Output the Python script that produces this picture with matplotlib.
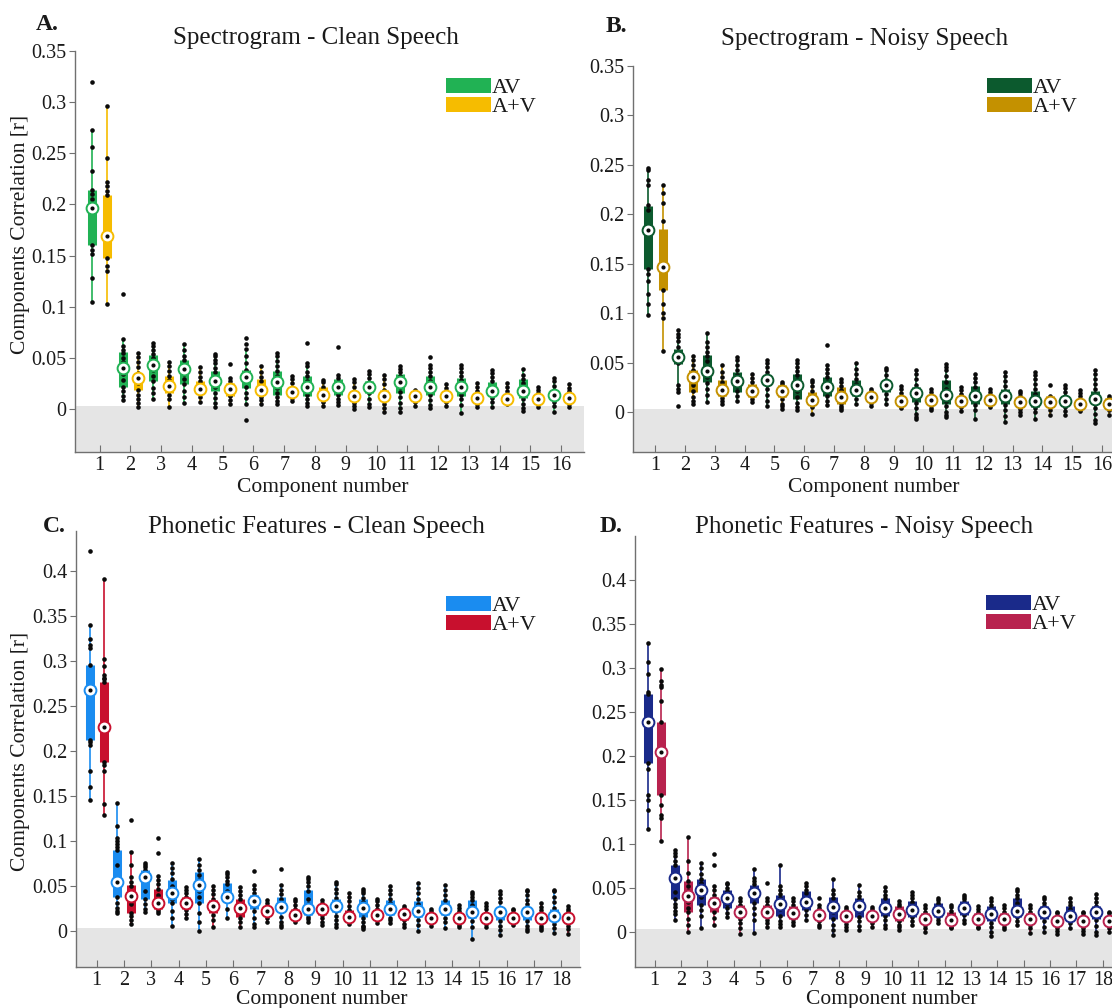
import numpy as np
import matplotlib
matplotlib.use('Agg')
import matplotlib.pyplot as plt
from matplotlib.patches import Rectangle
from matplotlib.ticker import FuncFormatter

plt.rcParams['font.family'] = ['Liberation Serif', 'DejaVu Serif']

W, H = 1112, 1008

# ---------------- A. Spectrogram - Clean Speech ----------------
sc_av_lo = [0.105, 0.009, 0.010, 0.006, 0.002, 0.005, 0.005, 0.003, 0.004, 0.002, -0.003, 0.001, -0.004, 0.002, -0.002, -0.003]
sc_av_q1 = [0.160, 0.022, 0.027, 0.024, 0.018, 0.021, 0.014, 0.013, 0.014, 0.016, 0.016, 0.014, 0.013, 0.013, 0.011, 0.010]
sc_av_med = [0.197, 0.040, 0.043, 0.039, 0.027, 0.031, 0.026, 0.022, 0.022, 0.022, 0.026, 0.022, 0.022, 0.018, 0.018, 0.014]
sc_av_q3 = [0.214, 0.056, 0.053, 0.048, 0.037, 0.038, 0.037, 0.032, 0.029, 0.027, 0.034, 0.032, 0.030, 0.026, 0.029, 0.019]
sc_av_hi = [0.273, 0.068, 0.065, 0.064, 0.054, 0.060, 0.055, 0.045, 0.033, 0.037, 0.042, 0.043, 0.043, 0.038, 0.039, 0.030]
sc_av_dots = [
    [0.32, 0.273, 0.256, 0.233, 0.214, 0.21, 0.205, 0.197, 0.16, 0.155, 0.152, 0.128, 0.105],
    [0.112, 0.068, 0.062, 0.058, 0.055, 0.05, 0.046, 0.04, 0.034, 0.028, 0.022, 0.018, 0.013, 0.009],
    [0.065, 0.062, 0.058, 0.054, 0.05, 0.046, 0.043, 0.038, 0.032, 0.027, 0.021, 0.016, 0.010],
    [0.064, 0.058, 0.052, 0.048, 0.044, 0.039, 0.034, 0.029, 0.024, 0.018, 0.012, 0.006],
    [0.054, 0.052, 0.048, 0.045, 0.04, 0.036, 0.031, 0.027, 0.022, 0.016, 0.011, 0.006, 0.002],
    [0.069, 0.064, 0.059, 0.052, 0.045, 0.038, 0.034, 0.031, 0.027, 0.022, 0.016, 0.011, 0.005, -0.011],
    [0.055, 0.052, 0.047, 0.042, 0.037, 0.032, 0.026, 0.021, 0.016, 0.012, 0.008, 0.005],
    [0.065, 0.045, 0.042, 0.036, 0.032, 0.027, 0.022, 0.018, 0.014, 0.01, 0.006, 0.003],
    [0.061, 0.033, 0.03, 0.026, 0.022, 0.018, 0.014, 0.01, 0.007, 0.004],
    [0.037, 0.034, 0.03, 0.026, 0.022, 0.019, 0.016, 0.01, 0.005, 0.002],
    [0.042, 0.039, 0.036, 0.032, 0.028, 0.026, 0.022, 0.017, 0.012, 0.006, 0.001, -0.003],
    [0.051, 0.043, 0.04, 0.036, 0.032, 0.027, 0.022, 0.018, 0.014, 0.009, 0.004, 0.001],
    [0.043, 0.04, 0.036, 0.032, 0.028, 0.022, 0.018, 0.014, 0.01, 0.004, -0.004],
    [0.038, 0.035, 0.031, 0.027, 0.022, 0.018, 0.014, 0.011, 0.007, 0.002],
    [0.039, 0.033, 0.029, 0.025, 0.021, 0.018, 0.014, 0.01, 0.005, 0.001, -0.002],
    [0.030, 0.027, 0.023, 0.019, 0.016, 0.014, 0.011, 0.007, 0.003, -0.003],
]
sc_apv_lo = [0.102, 0.002, 0.002, 0.007, 0.005, 0.005, 0.008, 0.003, 0.000, -0.003, 0.003, 0.003, 0.002, 0.005, 0.002, 0.002]
sc_apv_q1 = [0.148, 0.019, 0.016, 0.015, 0.013, 0.014, 0.013, 0.011, 0.008, 0.010, 0.010, 0.010, 0.008, 0.008, 0.008, 0.008]
sc_apv_med = [0.169, 0.030, 0.023, 0.020, 0.020, 0.019, 0.017, 0.014, 0.013, 0.013, 0.013, 0.013, 0.011, 0.010, 0.010, 0.011]
sc_apv_q3 = [0.209, 0.035, 0.032, 0.027, 0.025, 0.029, 0.022, 0.022, 0.018, 0.019, 0.017, 0.018, 0.016, 0.014, 0.014, 0.016]
sc_apv_hi = [0.296, 0.055, 0.046, 0.041, 0.030, 0.042, 0.032, 0.028, 0.029, 0.033, 0.019, 0.024, 0.025, 0.025, 0.022, 0.024]
sc_apv_dots = [
    [0.296, 0.245, 0.222, 0.218, 0.213, 0.209, 0.169, 0.148, 0.14, 0.135, 0.103],
    [0.055, 0.051, 0.046, 0.041, 0.035, 0.03, 0.025, 0.019, 0.014, 0.01, 0.006, 0.002],
    [0.046, 0.042, 0.037, 0.032, 0.028, 0.023, 0.018, 0.014, 0.01, 0.002],
    [0.041, 0.036, 0.031, 0.027, 0.022, 0.02, 0.016, 0.012, 0.007],
    [0.044, 0.030, 0.027, 0.024, 0.02, 0.016, 0.013, 0.009, 0.005],
    [0.042, 0.036, 0.031, 0.027, 0.023, 0.019, 0.015, 0.012, 0.009, 0.005],
    [0.032, 0.029, 0.025, 0.021, 0.017, 0.014, 0.011, 0.008],
    [0.028, 0.026, 0.022, 0.018, 0.014, 0.011, 0.007, 0.003],
    [0.029, 0.026, 0.022, 0.018, 0.013, 0.009, 0.006, 0.003, 0.000],
    [0.033, 0.029, 0.024, 0.019, 0.013, 0.01, 0.005, 0.001, -0.003],
    [0.019, 0.017, 0.015, 0.013, 0.01, 0.007, 0.003],
    [0.024, 0.021, 0.018, 0.013, 0.01, 0.007, 0.003],
    [0.025, 0.022, 0.018, 0.014, 0.011, 0.008, 0.005, 0.002],
    [0.025, 0.022, 0.018, 0.014, 0.01, 0.008, 0.005],
    [0.022, 0.019, 0.016, 0.013, 0.01, 0.008, 0.005, 0.002],
    [0.024, 0.021, 0.018, 0.015, 0.011, 0.008, 0.005, 0.002],
]

# ---------------- B. Spectrogram - Noisy Speech ----------------
sn_av_lo = [0.098, 0.021, 0.011, 0.012, 0.006, 0.002, 0.007, 0.009, 0.009, -0.007, -0.005, -0.007, -0.010, -0.007, -0.003, -0.011]
sn_av_q1 = [0.145, 0.049, 0.031, 0.021, 0.028, 0.014, 0.017, 0.017, 0.021, 0.011, 0.009, 0.009, 0.009, 0.005, 0.006, 0.009]
sn_av_med = [0.184, 0.056, 0.042, 0.032, 0.033, 0.028, 0.026, 0.023, 0.028, 0.020, 0.018, 0.017, 0.017, 0.012, 0.012, 0.014]
sn_av_q3 = [0.209, 0.064, 0.058, 0.041, 0.038, 0.039, 0.036, 0.033, 0.033, 0.026, 0.033, 0.027, 0.024, 0.022, 0.017, 0.022]
sn_av_hi = [0.247, 0.076, 0.080, 0.056, 0.053, 0.053, 0.048, 0.050, 0.045, 0.043, 0.049, 0.039, 0.041, 0.041, 0.028, 0.043]
sn_av_dots = [
    [0.247, 0.245, 0.235, 0.23, 0.21, 0.205, 0.184, 0.145, 0.14, 0.133, 0.12, 0.11, 0.098],
    [0.083, 0.079, 0.076, 0.072, 0.066, 0.06, 0.056, 0.05, 0.028, 0.024, 0.021, 0.006],
    [0.080, 0.071, 0.066, 0.061, 0.057, 0.052, 0.046, 0.042, 0.036, 0.03, 0.024, 0.018, 0.011],
    [0.056, 0.053, 0.048, 0.043, 0.038, 0.032, 0.027, 0.022, 0.017, 0.012],
    [0.053, 0.05, 0.046, 0.041, 0.037, 0.033, 0.028, 0.024, 0.018, 0.012, 0.006],
    [0.053, 0.05, 0.046, 0.042, 0.038, 0.033, 0.028, 0.022, 0.016, 0.01, 0.005, 0.002],
    [0.068, 0.048, 0.044, 0.04, 0.036, 0.031, 0.026, 0.021, 0.017, 0.012, 0.007],
    [0.050, 0.044, 0.039, 0.034, 0.029, 0.023, 0.019, 0.014, 0.009],
    [0.045, 0.043, 0.038, 0.033, 0.028, 0.024, 0.019, 0.014, 0.009],
    [0.043, 0.039, 0.034, 0.028, 0.023, 0.02, 0.015, 0.01, 0.004, -0.002, -0.005, -0.007],
    [0.049, 0.046, 0.043, 0.037, 0.031, 0.024, 0.018, 0.012, 0.006, 0.0, -0.003, -0.005],
    [0.039, 0.035, 0.031, 0.026, 0.021, 0.017, 0.012, 0.007, 0.002, -0.007],
    [0.041, 0.037, 0.032, 0.027, 0.022, 0.017, 0.012, 0.007, 0.002, -0.004, -0.010],
    [0.041, 0.038, 0.034, 0.029, 0.024, 0.019, 0.015, 0.012, 0.008, 0.004, 0.0, -0.007],
    [0.028, 0.025, 0.021, 0.017, 0.012, 0.009, 0.005, 0.001, -0.003],
    [0.043, 0.039, 0.034, 0.029, 0.024, 0.019, 0.014, 0.009, 0.004, -0.002, -0.008, -0.011],
]
sn_apv_lo = [0.062, 0.008, 0.009, 0.011, 0.003, -0.002, 0.002, 0.006, 0.004, 0.002, 0.001, 0.005, -0.003, -0.003, 0.001, -0.003]
sn_apv_q1 = [0.124, 0.021, 0.017, 0.016, 0.016, 0.009, 0.009, 0.012, 0.008, 0.009, 0.007, 0.009, 0.005, 0.005, 0.005, 0.004]
sn_apv_med = [0.147, 0.036, 0.023, 0.022, 0.022, 0.013, 0.016, 0.016, 0.012, 0.013, 0.012, 0.013, 0.011, 0.011, 0.008, 0.009]
sn_apv_q3 = [0.185, 0.043, 0.033, 0.029, 0.028, 0.021, 0.026, 0.021, 0.017, 0.017, 0.017, 0.018, 0.015, 0.017, 0.012, 0.015]
sn_apv_hi = [0.230, 0.057, 0.048, 0.039, 0.031, 0.033, 0.034, 0.024, 0.027, 0.024, 0.026, 0.024, 0.022, 0.017, 0.023, 0.017]
sn_apv_dots = [
    [0.23, 0.222, 0.212, 0.193, 0.147, 0.124, 0.11, 0.1, 0.095, 0.062],
    [0.057, 0.053, 0.048, 0.043, 0.038, 0.033, 0.028, 0.022, 0.016, 0.012, 0.008],
    [0.048, 0.041, 0.036, 0.031, 0.027, 0.023, 0.019, 0.015, 0.012, 0.009],
    [0.039, 0.035, 0.031, 0.027, 0.022, 0.018, 0.014, 0.011],
    [0.031, 0.029, 0.026, 0.022, 0.018, 0.014, 0.009, 0.006, 0.003],
    [0.033, 0.031, 0.027, 0.022, 0.017, 0.013, 0.009, 0.005, -0.002],
    [0.034, 0.031, 0.027, 0.023, 0.018, 0.014, 0.01, 0.006, 0.004, 0.002],
    [0.024, 0.022, 0.019, 0.016, 0.013, 0.01, 0.006],
    [0.027, 0.024, 0.02, 0.016, 0.012, 0.009, 0.006, 0.004],
    [0.024, 0.021, 0.017, 0.013, 0.01, 0.007, 0.004, 0.002],
    [0.026, 0.023, 0.019, 0.015, 0.012, 0.008, 0.005, 0.001],
    [0.024, 0.021, 0.018, 0.015, 0.012, 0.009, 0.005],
    [0.022, 0.02, 0.017, 0.013, 0.009, 0.006, 0.003, 0.0, -0.003],
    [0.028, 0.017, 0.015, 0.012, 0.009, 0.006, 0.002, -0.003],
    [0.023, 0.02, 0.017, 0.013, 0.009, 0.006, 0.003, 0.001],
    [0.017, 0.015, 0.012, 0.009, 0.006, 0.002, -0.003],
]

# ---------------- C. Phonetic Features - Clean Speech ----------------
pc_av_lo = [0.145, 0.020, 0.021, 0.006, 0.000, 0.015, 0.004, 0.004, 0.010, 0.005, 0.002, 0.009, 0.000, 0.003, -0.009, -0.004, 0.000, -0.002]
pc_av_q1 = [0.213, 0.038, 0.036, 0.031, 0.031, 0.033, 0.025, 0.021, 0.018, 0.021, 0.016, 0.018, 0.016, 0.018, 0.014, 0.012, 0.012, 0.012]
pc_av_med = [0.268, 0.055, 0.060, 0.042, 0.051, 0.038, 0.033, 0.027, 0.025, 0.028, 0.026, 0.024, 0.022, 0.024, 0.021, 0.021, 0.021, 0.017]
pc_av_q3 = [0.296, 0.090, 0.068, 0.057, 0.066, 0.053, 0.040, 0.038, 0.046, 0.036, 0.036, 0.034, 0.033, 0.034, 0.034, 0.027, 0.027, 0.025]
pc_av_hi = [0.340, 0.142, 0.076, 0.076, 0.080, 0.066, 0.051, 0.051, 0.060, 0.055, 0.047, 0.050, 0.053, 0.051, 0.043, 0.045, 0.046, 0.046]
pc_av_dots = [
    [0.423, 0.34, 0.325, 0.318, 0.315, 0.296, 0.268, 0.213, 0.21, 0.207, 0.178, 0.16, 0.146],
    [0.142, 0.117, 0.103, 0.1, 0.097, 0.094, 0.09, 0.074, 0.055, 0.038, 0.031, 0.026, 0.022, 0.020],
    [0.076, 0.074, 0.071, 0.068, 0.06, 0.045, 0.036, 0.03, 0.025, 0.021],
    [0.076, 0.07, 0.065, 0.058, 0.05, 0.042, 0.036, 0.031, 0.022, 0.015, 0.006],
    [0.080, 0.074, 0.068, 0.062, 0.057, 0.051, 0.044, 0.038, 0.031, 0.02, 0.01, 0.000],
    [0.066, 0.063, 0.06, 0.056, 0.052, 0.045, 0.038, 0.033, 0.025, 0.015],
    [0.067, 0.051, 0.047, 0.042, 0.038, 0.033, 0.028, 0.022, 0.015, 0.008, 0.004],
    [0.069, 0.051, 0.046, 0.041, 0.036, 0.031, 0.027, 0.022, 0.016, 0.01, 0.007, 0.004],
    [0.060, 0.058, 0.054, 0.05, 0.045, 0.036, 0.03, 0.025, 0.02, 0.016, 0.013, 0.010],
    [0.055, 0.052, 0.047, 0.042, 0.037, 0.032, 0.028, 0.022, 0.017, 0.012, 0.008, 0.005],
    [0.047, 0.045, 0.042, 0.037, 0.032, 0.026, 0.02, 0.015, 0.01, 0.006, 0.004, 0.002],
    [0.050, 0.046, 0.041, 0.036, 0.031, 0.024, 0.02, 0.015, 0.012, 0.009],
    [0.053, 0.048, 0.042, 0.036, 0.03, 0.022, 0.017, 0.012, 0.007, 0.000],
    [0.051, 0.046, 0.04, 0.035, 0.03, 0.024, 0.02, 0.015, 0.01, 0.003],
    [0.043, 0.041, 0.038, 0.034, 0.029, 0.021, 0.016, 0.011, 0.005, -0.009],
    [0.045, 0.041, 0.037, 0.032, 0.026, 0.021, 0.016, 0.011, 0.006, 0.001, -0.004],
    [0.046, 0.045, 0.04, 0.035, 0.03, 0.025, 0.021, 0.016, 0.011, 0.006, 0.002, 0.000],
    [0.046, 0.044, 0.038, 0.032, 0.026, 0.021, 0.017, 0.013, 0.008, 0.003, -0.002],
]
pc_apv_lo = [0.128, 0.008, 0.020, 0.014, 0.005, 0.004, 0.010, 0.010, 0.007, 0.008, 0.009, 0.004, 0.006, 0.005, 0.005, 0.007, 0.001, -0.003]
pc_apv_q1 = [0.188, 0.020, 0.025, 0.025, 0.020, 0.016, 0.018, 0.014, 0.018, 0.011, 0.012, 0.012, 0.010, 0.010, 0.010, 0.011, 0.009, 0.010]
pc_apv_med = [0.227, 0.039, 0.031, 0.031, 0.028, 0.026, 0.022, 0.018, 0.025, 0.016, 0.018, 0.019, 0.014, 0.015, 0.015, 0.015, 0.014, 0.015]
pc_apv_q3 = [0.277, 0.051, 0.047, 0.038, 0.034, 0.036, 0.028, 0.025, 0.029, 0.023, 0.023, 0.023, 0.020, 0.020, 0.020, 0.020, 0.020, 0.020]
pc_apv_hi = [0.392, 0.088, 0.061, 0.049, 0.050, 0.049, 0.034, 0.036, 0.034, 0.042, 0.036, 0.028, 0.024, 0.029, 0.031, 0.025, 0.031, 0.028]
pc_apv_dots = [
    [0.392, 0.303, 0.295, 0.285, 0.282, 0.28, 0.277, 0.227, 0.188, 0.185, 0.178, 0.141, 0.129],
    [0.124, 0.088, 0.073, 0.06, 0.055, 0.05, 0.039, 0.03, 0.02, 0.017, 0.012, 0.008],
    [0.103, 0.087, 0.061, 0.057, 0.052, 0.047, 0.04, 0.031, 0.025, 0.022, 0.020],
    [0.049, 0.046, 0.042, 0.038, 0.034, 0.031, 0.027, 0.023, 0.019, 0.014],
    [0.050, 0.046, 0.041, 0.036, 0.032, 0.028, 0.023, 0.018, 0.012, 0.005],
    [0.049, 0.045, 0.04, 0.036, 0.031, 0.026, 0.02, 0.015, 0.01, 0.004],
    [0.034, 0.031, 0.028, 0.025, 0.022, 0.018, 0.014, 0.01],
    [0.036, 0.033, 0.029, 0.025, 0.021, 0.018, 0.014, 0.01],
    [0.034, 0.031, 0.029, 0.025, 0.021, 0.018, 0.014, 0.01, 0.007],
    [0.042, 0.038, 0.033, 0.028, 0.023, 0.019, 0.016, 0.012, 0.008],
    [0.036, 0.033, 0.029, 0.024, 0.02, 0.016, 0.012, 0.009],
    [0.028, 0.026, 0.023, 0.019, 0.016, 0.012, 0.008, 0.004],
    [0.024, 0.022, 0.019, 0.015, 0.012, 0.009, 0.006],
    [0.029, 0.026, 0.022, 0.018, 0.014, 0.01, 0.007, 0.005],
    [0.031, 0.028, 0.024, 0.02, 0.015, 0.011, 0.008, 0.005],
    [0.025, 0.023, 0.02, 0.016, 0.013, 0.01, 0.007],
    [0.031, 0.027, 0.023, 0.019, 0.014, 0.01, 0.006, 0.003, 0.001],
    [0.028, 0.025, 0.022, 0.018, 0.014, 0.01, 0.006, 0.002, -0.003],
]

# ---------------- D. Phonetic Features - Noisy Speech ----------------
pn_av_lo = [0.117, 0.013, 0.004, 0.017, -0.001, 0.006, 0.014, -0.004, 0.002, 0.004, 0.008, 0.010, 0.010, -0.005, 0.008, 0.000, 0.004, -0.004]
pn_av_q1 = [0.192, 0.037, 0.031, 0.027, 0.033, 0.018, 0.025, 0.015, 0.017, 0.018, 0.017, 0.017, 0.019, 0.012, 0.017, 0.015, 0.012, 0.015]
pn_av_med = [0.239, 0.061, 0.047, 0.038, 0.044, 0.032, 0.034, 0.028, 0.029, 0.027, 0.025, 0.024, 0.027, 0.020, 0.024, 0.022, 0.018, 0.023]
pn_av_q3 = [0.270, 0.076, 0.060, 0.048, 0.053, 0.042, 0.046, 0.040, 0.038, 0.038, 0.035, 0.033, 0.035, 0.029, 0.038, 0.029, 0.029, 0.029]
pn_av_hi = [0.328, 0.093, 0.078, 0.056, 0.071, 0.076, 0.055, 0.060, 0.053, 0.051, 0.045, 0.038, 0.042, 0.038, 0.049, 0.040, 0.038, 0.043]
pn_av_dots = [
    [0.328, 0.307, 0.293, 0.273, 0.27, 0.239, 0.192, 0.185, 0.155, 0.15, 0.139, 0.117],
    [0.093, 0.09, 0.086, 0.08, 0.076, 0.061, 0.045, 0.037, 0.032, 0.028, 0.024, 0.02, 0.013],
    [0.078, 0.073, 0.066, 0.06, 0.055, 0.047, 0.04, 0.031, 0.025, 0.018, 0.004],
    [0.056, 0.054, 0.05, 0.046, 0.042, 0.038, 0.032, 0.027, 0.021, 0.017],
    [0.071, 0.061, 0.058, 0.054, 0.05, 0.044, 0.038, 0.033, 0.027, 0.02, 0.014, -0.001],
    [0.076, 0.052, 0.048, 0.043, 0.038, 0.032, 0.026, 0.018, 0.012, 0.009, 0.006],
    [0.055, 0.052, 0.048, 0.044, 0.039, 0.034, 0.029, 0.025, 0.019, 0.014],
    [0.060, 0.047, 0.043, 0.038, 0.034, 0.028, 0.022, 0.015, 0.008, 0.002, -0.004],
    [0.053, 0.045, 0.041, 0.037, 0.033, 0.029, 0.024, 0.017, 0.012, 0.007, 0.002],
    [0.051, 0.046, 0.042, 0.038, 0.032, 0.027, 0.022, 0.018, 0.013, 0.008, 0.004],
    [0.045, 0.042, 0.038, 0.034, 0.03, 0.025, 0.02, 0.017, 0.012, 0.008],
    [0.038, 0.036, 0.033, 0.029, 0.024, 0.02, 0.017, 0.013, 0.010],
    [0.042, 0.04, 0.037, 0.034, 0.03, 0.027, 0.022, 0.019, 0.014, 0.010],
    [0.038, 0.035, 0.031, 0.027, 0.023, 0.02, 0.015, 0.01, 0.005, 0.0, -0.005],
    [0.049, 0.046, 0.042, 0.038, 0.033, 0.028, 0.024, 0.02, 0.017, 0.012, 0.008],
    [0.040, 0.037, 0.033, 0.029, 0.025, 0.022, 0.018, 0.012, 0.006, 0.000],
    [0.038, 0.034, 0.03, 0.026, 0.022, 0.018, 0.014, 0.01, 0.004],
    [0.043, 0.039, 0.034, 0.029, 0.025, 0.023, 0.018, 0.013, 0.007, 0.0, -0.004],
]
pn_apv_lo = [0.103, 0.000, 0.008, -0.003, 0.006, 0.008, 0.005, 0.002, 0.006, 0.002, 0.000, 0.004, 0.004, 0.003, -0.001, -0.002, -0.002, 0.000]
pn_apv_q1 = [0.156, 0.022, 0.023, 0.017, 0.017, 0.015, 0.013, 0.013, 0.013, 0.012, 0.010, 0.010, 0.010, 0.010, 0.009, 0.008, 0.008, 0.008]
pn_apv_med = [0.205, 0.041, 0.033, 0.023, 0.022, 0.021, 0.019, 0.018, 0.018, 0.020, 0.015, 0.014, 0.015, 0.015, 0.015, 0.012, 0.012, 0.012]
pn_apv_q3 = [0.239, 0.058, 0.040, 0.031, 0.031, 0.029, 0.025, 0.023, 0.023, 0.029, 0.021, 0.023, 0.021, 0.021, 0.021, 0.017, 0.017, 0.017]
pn_apv_hi = [0.299, 0.108, 0.052, 0.038, 0.038, 0.038, 0.030, 0.028, 0.028, 0.035, 0.030, 0.031, 0.029, 0.030, 0.031, 0.023, 0.023, 0.023]
pn_apv_dots = [
    [0.299, 0.285, 0.281, 0.278, 0.262, 0.239, 0.205, 0.156, 0.144, 0.133, 0.129, 0.103],
    [0.108, 0.081, 0.067, 0.058, 0.052, 0.046, 0.041, 0.034, 0.027, 0.022, 0.015, 0.008, 0.000],
    [0.088, 0.076, 0.052, 0.047, 0.042, 0.038, 0.033, 0.028, 0.023, 0.016, 0.008],
    [0.038, 0.035, 0.031, 0.027, 0.023, 0.019, 0.015, 0.01, 0.004, -0.003],
    [0.055, 0.038, 0.035, 0.031, 0.027, 0.022, 0.018, 0.014, 0.01, 0.006],
    [0.038, 0.035, 0.031, 0.027, 0.023, 0.019, 0.015, 0.011, 0.008],
    [0.038, 0.030, 0.027, 0.023, 0.019, 0.015, 0.012, 0.008, 0.005],
    [0.028, 0.026, 0.023, 0.019, 0.016, 0.013, 0.009, 0.005, 0.002],
    [0.028, 0.026, 0.023, 0.019, 0.016, 0.013, 0.01, 0.006],
    [0.035, 0.032, 0.029, 0.025, 0.02, 0.016, 0.012, 0.008, 0.005, 0.002],
    [0.030, 0.027, 0.023, 0.019, 0.015, 0.012, 0.008, 0.004, 0.000],
    [0.031, 0.028, 0.024, 0.02, 0.015, 0.012, 0.009, 0.006, 0.004],
    [0.029, 0.026, 0.022, 0.018, 0.015, 0.012, 0.009, 0.006, 0.004],
    [0.030, 0.027, 0.023, 0.019, 0.015, 0.012, 0.009, 0.006, 0.003],
    [0.031, 0.027, 0.023, 0.019, 0.015, 0.011, 0.008, 0.004, -0.001],
    [0.023, 0.021, 0.018, 0.015, 0.012, 0.008, 0.004, 0.001, -0.002],
    [0.023, 0.021, 0.018, 0.015, 0.012, 0.008, 0.004, 0.001, -0.002],
    [0.023, 0.021, 0.017, 0.014, 0.012, 0.008, 0.004, 0.000],
]

legend_labels = ['AV', 'A+V']
xlabel = 'Component number'
ylabel = 'Components Correlation [r]'

fig = plt.figure(figsize=(W / 100, H / 100), dpi=100)
TXT = '#1a1a1a'


def px_axes(left, right, top, bottom):
    return fig.add_axes([left / W, 1 - bottom / H, (right - left) / W, (bottom - top) / H])


def fig_text(x, y, s, **kw):
    fig.text(x / W, 1 - y / H, s, color=TXT, **kw)


def draw_boxes(ax, pos, lo, q1, med, q3, hi, dots, color):
    ax.vlines(pos, lo, hi, color=color, lw=1.2, zorder=2)
    ax.vlines(pos, q1, q3, color=color, lw=6.5, zorder=3, capstyle='butt')
    for p, d in zip(pos, dots):
        ax.plot([p] * len(d), d, 'o', color='#0a0a0a', ms=3.3, mew=0, zorder=4)
    ax.plot(pos, med, 'o', ms=8.5, mfc='white', mec=color, mew=1.4, zorder=5)
    ax.plot(pos, med, 'o', ms=3.0, color='#0a0a0a', mew=0, zorder=6)


panels = [
    # letter, title, axes box px, xlim, ylim, top y tick, colours, data, text anchors
    ('A.', 'Spectrogram - Clean Speech', (75, 584, 51, 452), (0.2, 16.74), (-0.042, 0.35), 0.35,
     ('#21b254', '#f6bc00'),
     (sc_av_lo, sc_av_q1, sc_av_med, sc_av_q3, sc_av_hi, sc_av_dots),
     (sc_apv_lo, sc_apv_q1, sc_apv_med, sc_apv_q3, sc_apv_hi, sc_apv_dots),
     (36, 30), (316, 44), (446, 78), (323, 492), 234),
    ('B.', 'Spectrogram - Noisy Speech', (633, 1124, 66, 452), (0.25, 16.74), (-0.04, 0.35), 0.35,
     ('#0c5a2e', '#c49100'),
     (sn_av_lo, sn_av_q1, sn_av_med, sn_av_q3, sn_av_hi, sn_av_dots),
     (sn_apv_lo, sn_apv_q1, sn_apv_med, sn_apv_q3, sn_apv_hi, sn_apv_dots),
     (606, 32), (865, 45), (987, 78), (874, 492), None),
    ('C.', 'Phonetic Features - Clean Speech', (76, 580, 531, 967), (0.24, 18.69), (-0.04, 0.445), 0.4,
     ('#1a8cf0', '#c8102e'),
     (pc_av_lo, pc_av_q1, pc_av_med, pc_av_q3, pc_av_hi, pc_av_dots),
     (pc_apv_lo, pc_apv_q1, pc_apv_med, pc_apv_q3, pc_apv_hi, pc_apv_dots),
     (43, 532), (316, 533), (446, 596), (322, 1004), 751),
    ('D.', 'Phonetic Features - Noisy Speech', (635, 1121, 536, 967), (0.25, 18.69), (-0.04, 0.45), 0.4,
     ('#1a2a8a', '#b8224e'),
     (pn_av_lo, pn_av_q1, pn_av_med, pn_av_q3, pn_av_hi, pn_av_dots),
     (pn_apv_lo, pn_apv_q1, pn_apv_med, pn_apv_q3, pn_apv_hi, pn_apv_dots),
     (600, 532), (864, 533), (986, 595), (892, 1004), None),
]

for (letter, title, box, xlim, ylim, ytop, colors, av, apv,
     letter_xy, title_xy, leg_xy, xlab_xy, ylab_y) in panels:
    ax = px_axes(*box)
    n = len(av[2])
    comps = np.arange(1, n + 1)
    ax.axhspan(ylim[0] - 0.01, 0.003, color='#e5e5e5', lw=0, zorder=0)
    draw_boxes(ax, comps - 0.25, *av, colors[0])
    draw_boxes(ax, comps + 0.25, *apv, colors[1])

    ax.set_xlim(*xlim)
    ax.set_ylim(*ylim)
    ax.set_xticks(comps)
    ax.set_yticks(np.arange(0, ytop + 0.001, 0.05))
    ax.yaxis.set_major_formatter(FuncFormatter(lambda v, p: f'{round(v, 3):g}'))
    for s in ('top', 'right'):
        ax.spines[s].set_visible(False)
    for s in ('left', 'bottom'):
        ax.spines[s].set_color('#707070')
        ax.spines[s].set_linewidth(1.0)
    ax.tick_params(axis='x', direction='in', length=5, color='#707070', labelsize=14.5,
                   labelcolor=TXT, pad=3)
    ax.tick_params(axis='y', direction='out', length=4, color='#707070', labelsize=14.5,
                   labelcolor=TXT, pad=2)
    ax.set_facecolor('none')

    fig_text(letter_xy[0], letter_xy[1], letter, fontsize=17, fontweight='bold', ha='left', va='baseline')
    fig_text(title_xy[0], title_xy[1], title, fontsize=18, ha='center', va='baseline')
    fig_text(xlab_xy[0], xlab_xy[1], xlabel, fontsize=15.5, ha='center', va='baseline')
    if ylab_y is not None:
        fig_text(21, ylab_y, ylabel, fontsize=15.5, rotation=90, ha='center', va='center')

    # legend patches
    lx, ly = leg_xy
    for i, (lab, col) in enumerate(zip(legend_labels, colors)):
        top = ly + i * 19
        fig.add_artist(Rectangle((lx / W, 1 - (top + 15) / H), 45 / W, 15 / H,
                                 transform=fig.transFigure, color=col, lw=0))
        fig_text(lx + 46, top + 15, lab, fontsize=16, ha='left', va='baseline')

fig.savefig('out.png', dpi=100)
